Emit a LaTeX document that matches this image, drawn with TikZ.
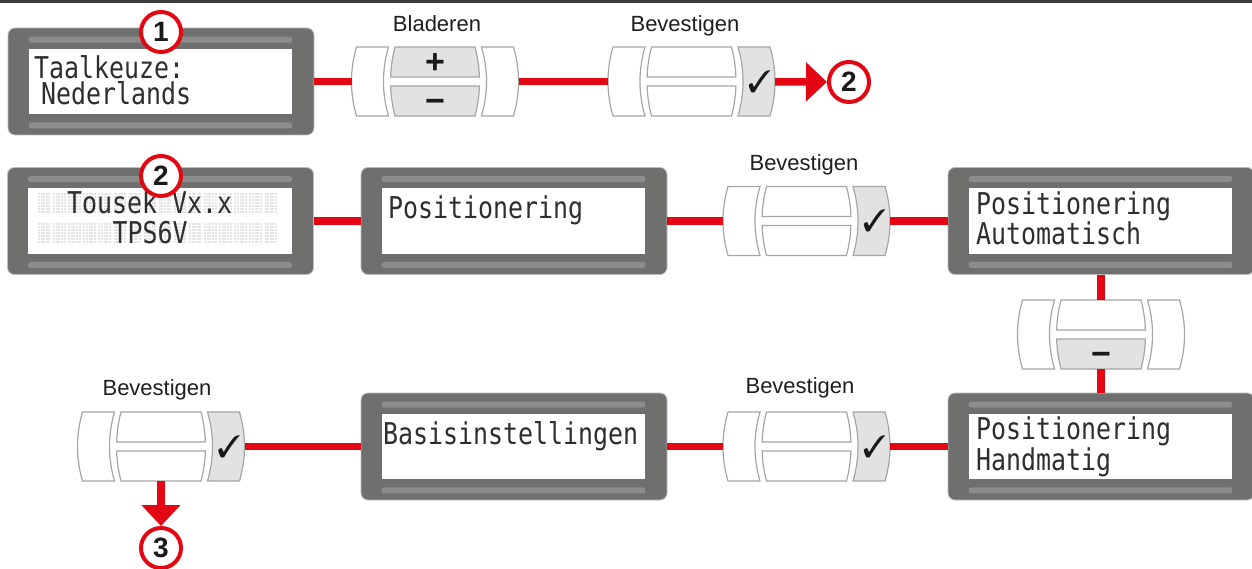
\documentclass[tikz,border=0pt]{standalone}
\usepackage{fontspec}
\setmainfont{Liberation Sans}
\newfontfamily\lcdfont[FakeStretch=0.83]{DejaVu Sans Mono}
\usepackage{pifont}
\usetikzlibrary{arrows.meta,calc}
\definecolor{lcdgray}{HTML}{6F6F6E}
\definecolor{lcdedge}{HTML}{BDBDBD}
\definecolor{stripe}{HTML}{8C8C8C}
\definecolor{btnline}{HTML}{A6A6A6}
\definecolor{btngray}{HTML}{E2E2E2}
\definecolor{tred}{HTML}{E30613}
\definecolor{dotgray}{HTML}{E4E4E4}
\definecolor{topgray}{HTML}{3C3C3C}
\tikzset{
  lcd/.style={rectangle, rounded corners=7pt, fill=lcdgray, draw=lcdedge, line width=0.8pt,
    minimum width=306pt, minimum height=107pt, inner sep=0pt},
  btnnode/.style={rectangle, minimum width=167pt, minimum height=69pt, inner sep=0pt, outer sep=0pt},
  redline/.style={draw=tred, line width=7.5pt},
  redarrow/.style={redline, -{Triangle[width=38pt,length=21pt]}},
  num/.style={circle, draw=tred, line width=4pt, fill=white, minimum size=40pt, inner sep=0pt,
    font=\fontsize{28}{28}\selectfont\bfseries, text=black!90},
  lbl/.style={anchor=base, inner sep=0pt, font=\fontsize{22}{22}\selectfont, text=black!88},
  lcdtxt/.style={anchor=base west, inner sep=0pt, align=left,
    font=\lcdfont\fontsize{30}{#1}\selectfont, text=black!82},
  lcdtxt/.default=26pt,
  sign/.style={anchor=base, inner sep=0pt, font=\fontsize{34}{34}\selectfont\bfseries, text=black!90},
  chk/.style={inner sep=0pt, font=\fontsize{31}{31}\selectfont, text=black!90},
  btnpart/.style={draw=btnline, line width=1.2pt},
  pics/btn/.style n args={4}{code={
    \path[btnpart, fill=#1] (-78.5,-34.5) -- (-46.5,-34.5)
      .. controls (-53.2,-11.5) and (-53.2,11.5) .. (-46.5,34.5) -- (-78.5,34.5)
      .. controls (-85.2,11.5) and (-85.2,-11.5) .. (-78.5,-34.5) -- cycle;
    \path[btnpart, fill=#4] (78.5,-34.5) -- (46.5,-34.5)
      .. controls (53.2,-11.5) and (53.2,11.5) .. (46.5,34.5) -- (78.5,34.5)
      .. controls (85.2,11.5) and (85.2,-11.5) .. (78.5,-34.5) -- cycle;
    \path[btnpart, fill=#2] (-40,-34.5) -- (40,-34.5)
      .. controls (42.6,-24.5) and (44.1,-14.5) .. (44.4,-4.5) -- (-44.4,-4.5)
      .. controls (-44.1,-14.5) and (-42.6,-24.5) .. (-40,-34.5) -- cycle;
    \path[btnpart, fill=#3] (-40,34.5) -- (40,34.5)
      .. controls (42.6,24.5) and (44.1,14.5) .. (44.4,4.5) -- (-44.4,4.5)
      .. controls (-44.1,14.5) and (-42.6,24.5) .. (-40,34.5) -- cycle;
  }}
}
\newcommand\lcdparts[1]{%
  \fill[white] ($(#1.north west)+(21,21)$) rectangle ($(#1.south east)+(-22,-21)$);
  \fill[stripe, rounded corners=2.5pt] ($(#1.north west)+(21,9)$) rectangle ($(#1.north east)+(-22,15)$);
  \fill[stripe, rounded corners=2.5pt] ($(#1.south west)+(21,-13)$) rectangle ($(#1.south east)+(-22,-7)$);
}
\begin{document}
\begin{tikzpicture}[x=1pt,y=-1pt]
\useasboundingbox (0,0) rectangle (1252,569);
\clip (0,0) rectangle (1252,569);
\fill[white] (0,0) rectangle (1252,569);
\draw[topgray, line width=2.6pt] (0,1.5) -- (1252,1.5);

% ---------- displays ----------
\node[lcd] (d1) at (161,81.5) {};
\node[lcd] (d2) at (160.5,221) {};
\node[lcd] (d3) at (514,221) {};
\node[lcd] (d4) at (1101,221) {};
\node[lcd] (d5) at (1101,446.5) {};
\node[lcd] (d6) at (514,446.5) {};
\lcdparts{d1}\lcdparts{d2}\lcdparts{d3}\lcdparts{d4}\lcdparts{d5}\lcdparts{d6}

% dot grid of the start-up screen
\foreach \yy in {193,223}
  \foreach \c in {0,...,15}
    \foreach \i in {0,...,4}
      \foreach \j in {0,...,6}
        \fill[dotgray] ({38+15.1*\c+2.6*\i},{\yy+3*\j}) rectangle +(2,2.2);

% ---------- display texts (anchor = baseline of the last line) ----------
\node[lcdtxt=26pt] (t1) at (34,104.5) {Taalkeuze:\\\hspace*{7pt}Nederlands};
\node[lcdtxt=30pt] (t2) at (67,243.5) {Tousek Vx.x\\\hspace*{45.5pt}TPS6V};
\node[lcdtxt] (t3) at (388,219) {Positionering};
\node[lcdtxt] (t4) at (976,245) {Positionering\\Automatisch};
\node[lcdtxt] (t5) at (976,470) {Positionering\\Handmatig};
\node[lcdtxt] (t6) at (383,444) {Basisinstellingen};

% ---------- buttons ----------
\node[btnnode] (b1) at (435,81.5) {};
\node[btnnode] (bv1) at (691.5,81.5) {};
\node[btnnode] (bv2) at (806.5,221) {};
\node[btnnode] (vb) at (1101,334.5) {};
\node[btnnode] (bv3) at (806.5,446.5) {};
\node[btnnode] (bv4) at (161,446.5) {};
\pic (b1p) at (b1) {btn={white}{btngray}{btngray}{white}};
\pic (bv1p) at (bv1) {btn={white}{white}{white}{btngray}};
\pic (bv2p) at (bv2) {btn={white}{white}{white}{btngray}};
\pic (vbp) at (vb) {btn={white}{white}{btngray}{white}};
\pic (bv3p) at (bv3) {btn={white}{white}{white}{btngray}};
\pic (bv4p) at (bv4) {btn={white}{white}{white}{btngray}};

\node[sign] (plus1) at ($(b1)+(0,-7.6)$) {+};
\node[sign] (min1) at ($(b1)+(0,31)$) {−};
\node[sign] (min2) at ($(vb)+(0,31)$) {−};
\node[chk] (k1) at ($(bv1)+(68,0)$) {\ding{51}};
\node[chk] (k2) at ($(bv2)+(68,0)$) {\ding{51}};
\node[chk] (k3) at ($(bv3)+(68,0)$) {\ding{51}};
\node[chk] (k4) at ($(bv4)+(68,0)$) {\ding{51}};

% ---------- labels ----------
\node[lbl] (l1) at (437,32) {Bladeren};
\node[lbl] (l2) at (685,32) {Bevestigen};
\node[lbl] (l3) at (804,171) {Bevestigen};
\node[lbl] (l4) at (800,393) {Bevestigen};
\node[lbl] (l5) at (157,395) {Bevestigen};

% ---------- step numbers ----------
\node[num] (c1) at (161,32) {1};
\node[num] (c2b) at (161,176) {2};
\node[num] (c2a) at (849,82) {2};
\node[num] (c3) at (161,548) {3};

% ---------- connectors ----------
\draw[redline] (d1) -- (b1);
\draw[redline] (b1) -- (bv1);
\draw[redarrow] (bv1) -- (c2a);
\draw[redline] (d2) -- (d3);
\draw[redline] (d3) -- (bv2);
\draw[redline] (bv2) -- (d4);
\draw[redline] (d4) -- (vb);
\draw[redline] (vb) -- (d5);
\draw[redline] (d5) -- (bv3);
\draw[redline] (bv3) -- (d6);
\draw[redline] (d6) -- (bv4);
\draw[redarrow] (bv4) -- (c3);
\end{tikzpicture}
\end{document}
